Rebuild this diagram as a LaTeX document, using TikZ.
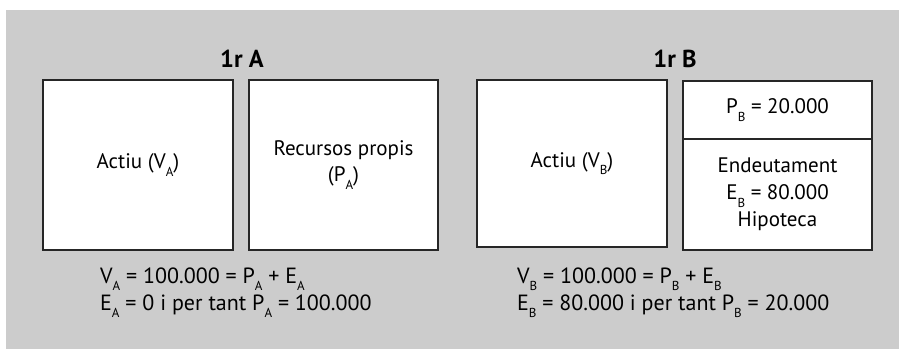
\documentclass[tikz,border=0pt]{standalone}
\usepackage{fontspec}
\setmainfont{PT Sans}
\newcommand\sbx[1]{\raisebox{-7.5pt}{\fontsize{13}{13}\selectfont #1}}
\definecolor{bggray}{HTML}{CCCCCC}
\tikzset{
  boxnode/.style={draw=black!85, line width=1.4pt, fill=white, inner sep=0pt, align=center,
    font=\fontsize{21}{26}\selectfont},
  eqline/.style={anchor=base west, inner sep=0pt, font=\fontsize{22}{27}\selectfont},
  title/.style={anchor=base, inner sep=0pt, font=\fontsize{24.5}{24.5}\selectfont\bfseries},
}
\begin{document}
\begin{tikzpicture}[x=1pt,y=-1pt]
\useasboundingbox (0,0) rectangle (899,349);
\fill[bggray] (6,10) rectangle (899,349);
% titles
\node[title] (tA) at (242,67) {1r A};
\node[title] (tB) at (675,67) {1r B};
% boxes A
\node[boxnode, minimum width=190pt, minimum height=170pt] (A1) at (138,165) {Actiu (V\sbx{A})};
\node[boxnode, minimum width=189pt, minimum height=170pt] (A2) at (343.5,165) {Recursos propis\\(P\sbx{A})};
% boxes B
\node[boxnode, minimum width=190pt, minimum height=167pt] (B1) at (572,163.5) {Actiu (V\sbx{B})};
\node[boxnode, minimum width=189pt, minimum height=58pt] (B2t) at (777.5,110) {P\sbx{B} = 20.000};
\node[boxnode, minimum width=189pt, minimum height=111pt, font=\fontsize{21}{27}\selectfont] (B2b) at (777.5,194.5) {Endeutament\\E\sbx{B} = 80.000\\Hipoteca};
% equations
\node[eqline] (eA1) at (100,283) {V\sbx{A} = 100.000 = P\sbx{A} + E\sbx{A}};
\node[eqline] (eA2) at (100,310) {E\sbx{A} = 0 i per tant P\sbx{A} = 100.000};
\node[eqline] (eB1) at (517,283) {V\sbx{B} = 100.000 = P\sbx{B} + E\sbx{B}};
\node[eqline] (eB2) at (517,310) {E\sbx{B} = 80.000 i per tant P\sbx{B} = 20.000};
\end{tikzpicture}
\end{document}
